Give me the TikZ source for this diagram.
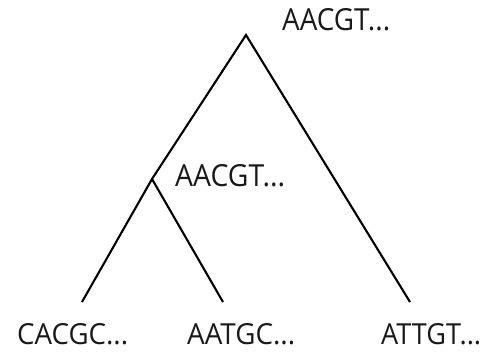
\documentclass[tikz,border=0pt]{standalone}
\usepackage{fontspec}
\setmainfont{Open Sans}
\begin{document}
\begin{tikzpicture}[x=1pt,y=-1pt,
  branch/.style={line width=2.1pt, line join=miter},
  lbl/.style={anchor=base west, inner sep=0pt, font=\fontsize{29}{34}\selectfont, text=black!90}]
\useasboundingbox (0,0) rectangle (482,352);
\coordinate (root) at (246,35);
\coordinate (inner) at (152,179);
\coordinate (l1) at (82,302);
\coordinate (l2) at (223,302);
\coordinate (l3) at (410,302);
\draw[branch] (l1) -- (inner) -- (root) -- (l3);
\draw[branch] (inner) -- (l2);
\node[lbl] (troot) at (282,31) {\resizebox{108pt}{22pt}{AACGT...}};
\node[lbl] (tinner) at (175,187) {\resizebox{110pt}{22pt}{AACGT...}};
\node[lbl] (ta) at (17,345) {\resizebox{111pt}{21pt}{CACGC...}};
\node[lbl] (tb) at (187,345) {\resizebox{108pt}{21pt}{AATGC...}};
\node[lbl] (tc) at (381,345) {\resizebox{100pt}{21pt}{ATTGT...}};
\end{tikzpicture}
\end{document}
